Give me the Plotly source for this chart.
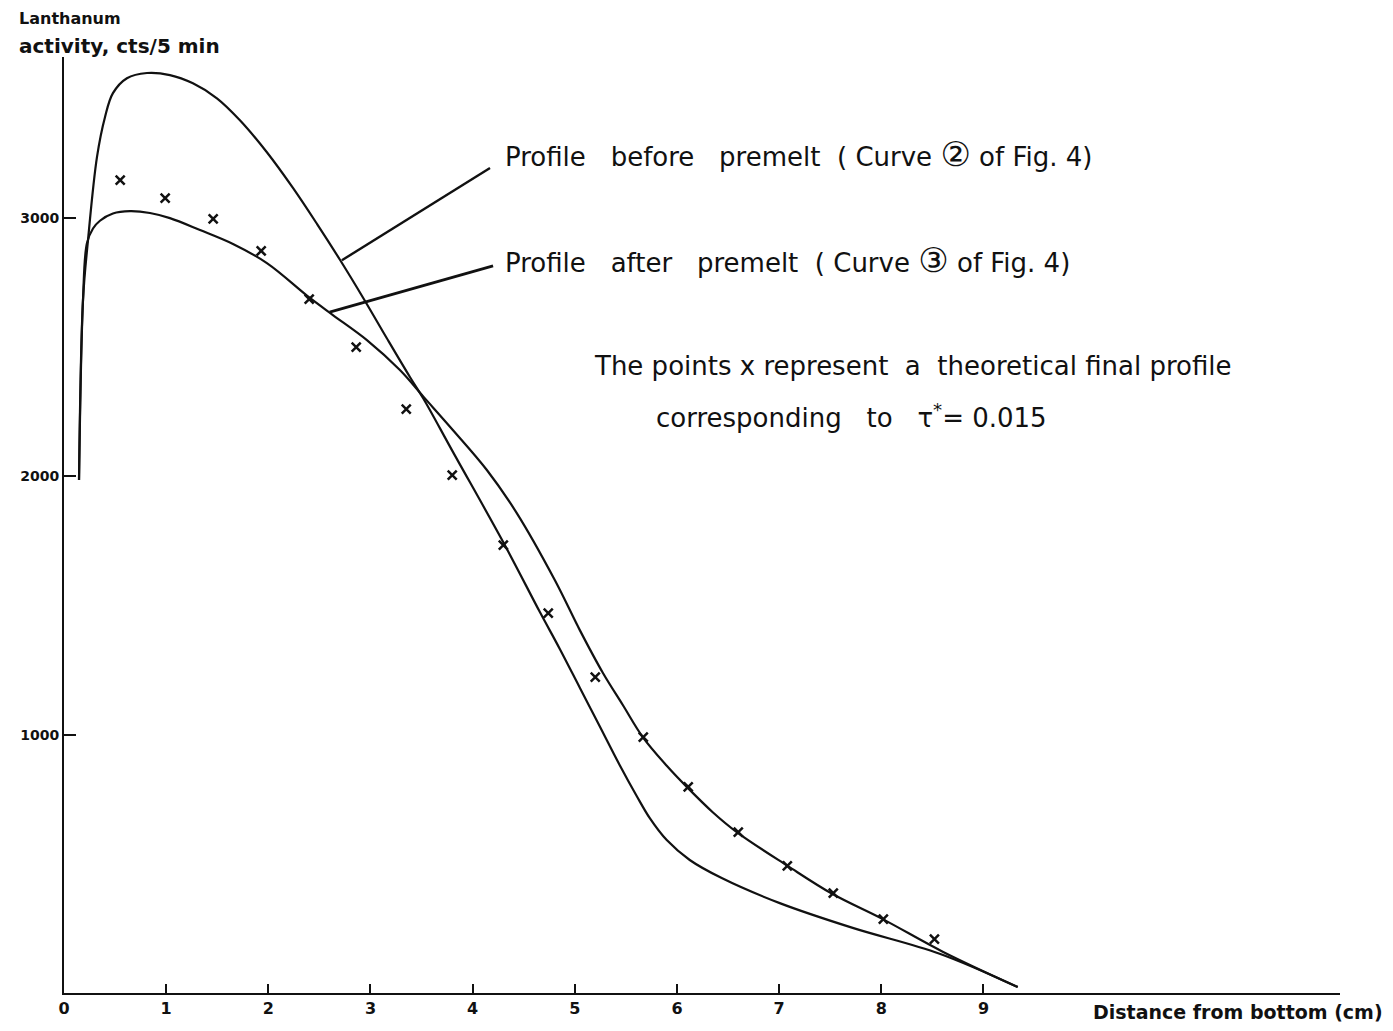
import plotly.graph_objects as go

# Theoretical final profile, tau* = 0.015 (points drawn as x)
pts_x = [0.55, 0.99, 1.46, 1.93, 2.40, 2.86, 3.35, 3.80, 4.30, 4.74,
         5.20, 5.67, 6.11, 6.60, 7.08, 7.53, 8.02, 8.52]
pts_y = [3147, 3078, 2997, 2873, 2687, 2501, 2261, 2005, 1734, 1471,
         1223, 991, 798, 623, 492, 387, 286, 209]

# Profile before premelt (curve 2 of Fig. 4)
before_x = [0.147, 0.186, 0.235, 0.323, 0.401, 0.479, 0.616, 0.812, 1.037,
            1.262, 1.497, 1.722, 1.986, 2.241, 2.476, 2.701, 2.926, 3.160,
            3.386, 3.520, 3.800, 4.300, 4.658, 4.853, 5.049, 5.245, 5.440,
            5.607, 5.734, 5.900, 6.125, 6.438, 7.006, 7.720, 8.571, 9.335]
before_y = [1986, 2683, 2915, 3237, 3391, 3484, 3542, 3562, 3554,
            3522, 3464, 3379, 3255, 3117, 2978, 2839, 2693, 2535,
            2385, 2300, 2100, 1745, 1475, 1332, 1182, 1032, 882,
            762, 677, 592, 515, 445, 348, 252, 152, 23]

# Profile after premelt (curve 3 of Fig. 4)
after_x = [0.147, 0.186, 0.225, 0.284, 0.352, 0.479, 0.646, 0.841, 1.037,
           1.331, 1.654, 1.986, 2.407, 2.632, 2.965, 3.288, 3.520, 3.806,
           4.139, 4.432, 4.804, 5.049, 5.274, 5.470, 5.665, 5.900, 6.096,
           6.350, 6.585, 7.084, 7.524, 8.014, 8.601, 9.335]
after_y = [1986, 2683, 2904, 2960, 2990, 3018, 3027, 3020, 3000,
           2954, 2900, 2826, 2691, 2625, 2528, 2412, 2308, 2180,
           2025, 1858, 1599, 1405, 1240, 1115, 991, 880, 798,
           700, 623, 492, 383, 286, 160, 23]

x_ticks = [0, 1, 2, 3, 4, 5, 6, 7, 8, 9]
y_ticks = [1000, 2000, 3000]

INK = "#111111"
HAND = "'DejaVu Sans', Lato, sans-serif"
NB = "\u00a0"


def spaced(*parts):
    """Join words with the given runs of non-breaking spaces: (word, gap, word, ...)."""
    out = ""
    for p in parts:
        out += NB * p if isinstance(p, int) else p
    return out


def circled(ch):
    return f"<span style='font-size:34px'>{ch}</span>"


fig = go.Figure()

for cx, cy in [(before_x, before_y), (after_x, after_y)]:
    fig.add_trace(go.Scatter(
        x=cx, y=cy, mode="lines",
        line=dict(color=INK, width=2.2, shape="spline", smoothing=1.0),
        hoverinfo="skip", showlegend=False,
    ))

fig.add_trace(go.Scatter(
    x=pts_x, y=pts_y, mode="markers",
    marker=dict(symbol="x-thin", size=9, line=dict(color=INK, width=2.5)),
    showlegend=False,
))

# leader lines from the labels to the curves
shapes = [
    dict(type="line", xref="x", yref="y", x0=x0, y0=y0, x1=x1, y1=y1,
         line=dict(color=INK, width=w))
    for (x0, y0, x1, y1, w) in [(2.72, 2837, 4.17, 3194, 2.4),
                                (2.60, 2636, 4.20, 2815, 2.8)]
]

label_font = dict(family=HAND, size=26, color=INK)
annotations = [
    dict(x=4.30, y=3250, xref="x", yref="y", xanchor="left", yanchor="middle",
         showarrow=False, font=label_font,
         text=spaced("Profile", 3, "before", 3, "premelt", 2, "(", 1, "Curve", 1,
                     circled("\u2461"), 1, "of", 1, "Fig.", 1, "4)")),
    dict(x=4.30, y=2838, xref="x", yref="y", xanchor="left", yanchor="middle",
         showarrow=False, font=label_font,
         text=spaced("Profile", 3, "after", 3, "premelt", 2, "(", 1, "Curve", 1,
                     circled("\u2462"), 1, "of", 1, "Fig.", 1, "4)")),
    dict(x=5.17, y=2427, xref="x", yref="y", xanchor="left", yanchor="middle",
         showarrow=False, font=label_font,
         text=spaced("The", 1, "points", 1, "x", 1, "represent", 2, "a", 2,
                     "theoretical", 1, "final", 1, "profile")),
    dict(x=5.78, y=2234, xref="x", yref="y", xanchor="left", yanchor="middle",
         showarrow=False, font=label_font,
         text=spaced("corresponding", 3, "to", 3, "\u03c4<sup>*</sup>=", 1, "0.015")),
    # axis titles
    dict(x=-0.037, y=1.041, xref="paper", yref="paper", xanchor="left", yanchor="middle",
         showarrow=False, align="left",
         font=dict(family=HAND, size=16, color=INK, weight="bold"),
         text="Lanthanum"),
    dict(x=-0.037, y=1.012, xref="paper", yref="paper", xanchor="left", yanchor="middle",
         showarrow=False, align="left",
         font=dict(family=HAND, size=20, color=INK, weight="bold"),
         text="activity, cts/5 min"),
    dict(x=1.035, y=-0.020, xref="paper", yref="paper", xanchor="right", yanchor="middle",
         showarrow=False,
         font=dict(family=HAND, size=19, color=INK, weight="bold"),
         text="Distance from bottom (cm)"),
]

fig.update_layout(
    width=1393, height=1031, autosize=False,
    margin=dict(l=64, r=53, t=57, b=38),
    paper_bgcolor="white", plot_bgcolor="white",
    annotations=annotations, shapes=shapes,
    xaxis=dict(
        range=[0, 12.49], showgrid=False, zeroline=False,
        showline=True, linecolor=INK, linewidth=2,
        ticks="inside", ticklen=9, tickwidth=2, tickcolor=INK,
        tickvals=x_ticks, ticktext=[f"<b>{v}</b>" for v in x_ticks],
        tickfont=dict(family="DejaVu Sans", size=16, color=INK),
    ),
    yaxis=dict(
        range=[0, 3624], showgrid=False, zeroline=False,
        showline=True, linecolor=INK, linewidth=2,
        ticks="inside", ticklen=12, tickwidth=2, tickcolor=INK,
        tickvals=y_ticks, ticktext=[f"<b>{v}</b>" for v in y_ticks],
        tickfont=dict(family="DejaVu Sans", size=14, color=INK),
    ),
)

fig.write_html("out.html")
